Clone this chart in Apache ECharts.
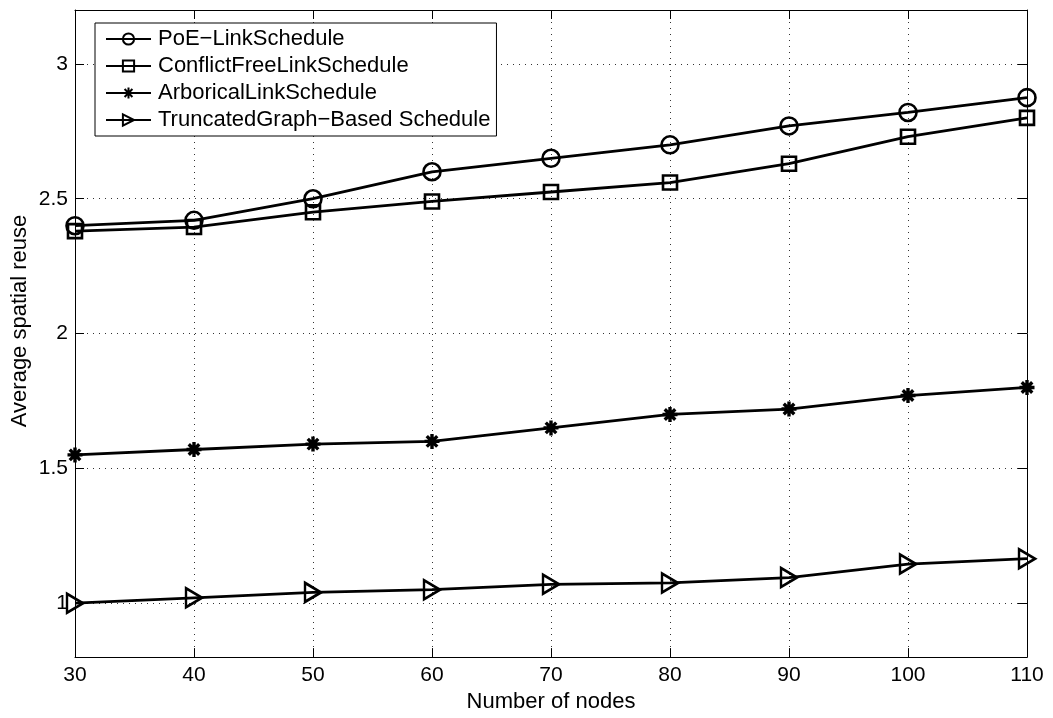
<!DOCTYPE html>
<html>
<head>
<meta charset="utf-8">
<script src="https://cdn.jsdelivr.net/npm/echarts@6/dist/echarts.min.js"></script>
<style>
html, body { margin: 0; padding: 0; background: #fff; }
#chart { width: 1053px; height: 718px; }
</style>
</head>
<body>
<div id="chart"></div>
<script>
var nodes = [30, 40, 50, 60, 70, 80, 90, 100, 110];
var poeValues = [2.40, 2.42, 2.50, 2.60, 2.65, 2.70, 2.77, 2.82, 2.875];
var conflictFreeValues = [2.38, 2.395, 2.45, 2.49, 2.525, 2.56, 2.63, 2.73, 2.80];
var arboricalValues = [1.55, 1.57, 1.59, 1.60, 1.65, 1.70, 1.72, 1.77, 1.80];
var truncatedValues = [1.00, 1.02, 1.04, 1.05, 1.07, 1.075, 1.095, 1.145, 1.165];
var yTicks = [1, 1.5, 2, 2.5, 3];

var font = 'Liberation Sans, Arial, sans-serif';
var starPath = 'path://M0,-10L0,10M-10,0L10,0M-7,-7L7,7M-7,7L7,-7';
var trianglePath = 'path://M0,0L16,9.5L0,19Z';

function pairs(vals) {
    return nodes.map(function (x, i) { return [x, vals[i]]; });
}

function mkSeries(name, vals, symbol, size, bw) {
    return {
        name: name,
        type: 'line',
        data: pairs(vals),
        symbol: symbol,
        symbolSize: size,
        showAllSymbol: true,
        lineStyle: { color: '#000', width: 2.8 },
        itemStyle: { color: 'transparent', borderColor: '#000', borderWidth: bw || 2.6 },
        z: 3
    };
}

var chart = echarts.init(document.getElementById('chart'));
chart.setOption({
    animation: false,
    backgroundColor: '#fff',
    grid: { left: 75, right: 26, top: 10, bottom: 57 },
    legend: {
        orient: 'vertical',
        left: 95,
        top: 23,
        itemWidth: 45,
        itemHeight: 14,
        itemGap: 5,
        padding: [5, 6, 5, 10],
        backgroundColor: '#fff',
        borderColor: '#000',
        borderWidth: 1,
        borderRadius: 0,
        textStyle: { fontFamily: font, fontSize: 22, lineHeight: 22, color: '#000', padding: [0, 0, 0, 2] },
        data: ['PoE\u2212LinkSchedule', 'ConflictFreeLinkSchedule', 'ArboricalLinkSchedule', 'TruncatedGraph\u2212Based Schedule']
    },
    graphic: [{
        type: 'text',
        x: 20,
        y: 321,
        rotation: Math.PI / 2,
        style: {
            text: 'Average spatial reuse',
            font: '22px Liberation Sans, Arial, sans-serif',
            fill: '#000',
            align: 'center',
            verticalAlign: 'middle'
        }
    }],
    xAxis: [{
        type: 'value',
        min: 30,
        max: 110,
        interval: 10,
        name: 'Number of nodes',
        nameLocation: 'middle',
        nameGap: 29,
        nameTextStyle: { fontFamily: font, fontSize: 22, color: '#000' },
        axisLine: { lineStyle: { color: '#000', width: 1 } },
        axisTick: { inside: true, length: 9, lineStyle: { color: '#000' } },
        axisLabel: { fontFamily: font, fontSize: 21, color: '#000', margin: 8 },
        splitLine: { show: true, lineStyle: { color: '#333', type: [1, 5], width: 1 } }
    }, {
        type: 'value',
        position: 'top',
        min: 30,
        max: 110,
        interval: 10,
        axisLine: { lineStyle: { color: '#000', width: 1 } },
        axisTick: { inside: true, length: 9, lineStyle: { color: '#000' } },
        axisLabel: { show: false },
        splitLine: { show: false }
    }],
    yAxis: [{
        type: 'value',
        min: 0.8,
        max: 3.2,
        axisLine: { show: true, lineStyle: { color: '#000', width: 1 } },
        axisTick: { show: true, inside: true, length: 9, customValues: yTicks, lineStyle: { color: '#000' } },
        axisLabel: { fontFamily: font, fontSize: 21, color: '#000', margin: 7, customValues: yTicks },
        splitLine: { show: true, lineStyle: { color: '#333', type: [1, 5], width: 1 } }
    }, {
        type: 'value',
        position: 'right',
        min: 0.8,
        max: 3.2,
        axisLine: { show: true, lineStyle: { color: '#000', width: 1 } },
        axisTick: { show: true, inside: true, length: 9, customValues: yTicks, lineStyle: { color: '#000' } },
        axisLabel: { show: false },
        splitLine: { show: false }
    }],
    series: [
        mkSeries('PoE\u2212LinkSchedule', poeValues, 'circle', 17),
        mkSeries('ConflictFreeLinkSchedule', conflictFreeValues, 'rect', 14),
        mkSeries('ArboricalLinkSchedule', arboricalValues, starPath, 15, 3.4),
        mkSeries('TruncatedGraph\u2212Based Schedule', truncatedValues, trianglePath, [16, 19])
    ]
});
</script>
</body>
</html>
